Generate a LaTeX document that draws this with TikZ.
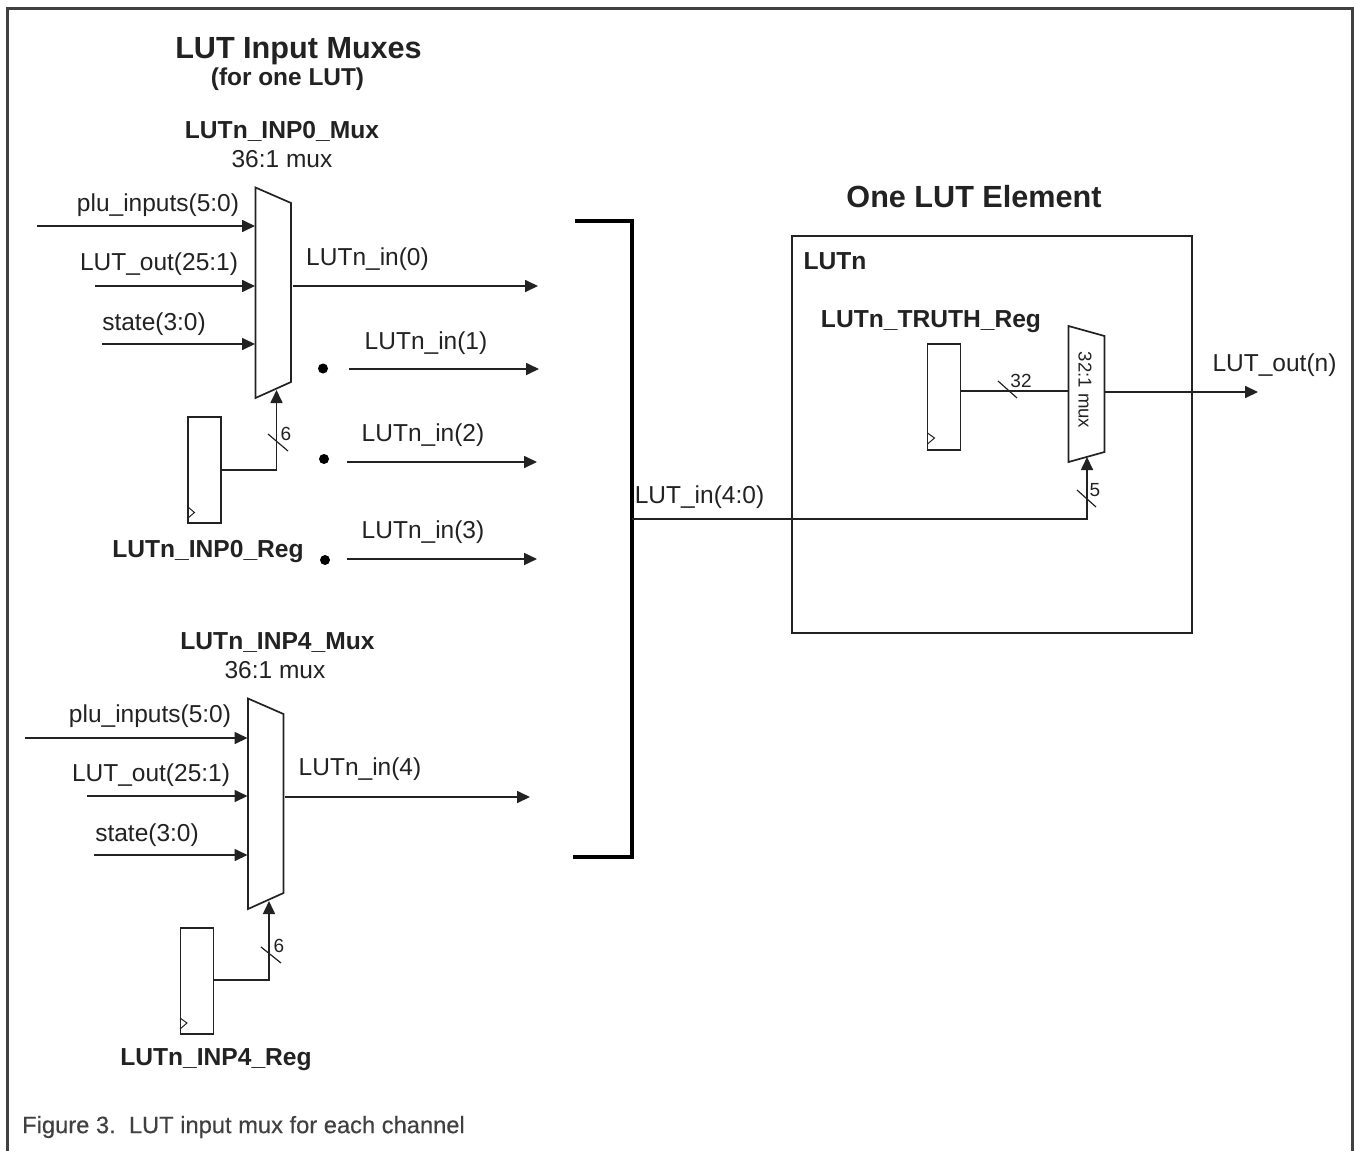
\documentclass[tikz,border=0pt]{standalone}
\usepackage{fontspec}
\setmainfont{Liberation Sans}
\newfontface\capfont[FakeBold=0.35]{Liberation Sans}
\usetikzlibrary{arrows.meta}
\definecolor{ink}{HTML}{222222}
\definecolor{framec}{HTML}{404040}
\tikzset{
  wire/.style={draw=ink,line width=1.7pt},
  sig/.style={wire,-{Triangle[length=13pt,width=12pt]}},
  thin part/.style={draw=ink,line width=1.7pt,line join=miter},
  tick/.style={draw=ink,line width=1.2pt},
  clk/.style={draw=ink,line width=1pt},
  reg/.style={draw=ink,line width=1.8pt,rectangle,inner sep=0pt,minimum width=33pt,minimum height=106pt},
  lab/.style={inner sep=0pt,text=ink,font=\fontsize{24.5}{28}\selectfont},
  blab/.style={inner sep=0pt,text=ink,font=\fontsize{24.6}{28}\selectfont\bfseries},
  hlab/.style={inner sep=0pt,text=ink,font=\fontsize{30.6}{34}\selectfont\bfseries},
  nlab/.style={inner sep=0pt,text=ink,font=\fontsize{19}{20}\selectfont},
  dotm/.style={circle,fill=black,inner sep=0pt,minimum size=10pt},
}
\begin{document}
\begin{tikzpicture}[x=1pt,y=-1pt]
\useasboundingbox (0,0) rectangle (1354,1151);
% frame
\coordinate (fbl) at (7,1151); \coordinate (ftl) at (7,8);
\coordinate (ftr) at (1352,8); \coordinate (fbr) at (1352,1151);
\draw[draw=framec,line width=3pt] (fbl) -- (ftl) -- (ftr) -- (fbr);
% headings
\node[hlab] (h1) at (298.5,51.5) {LUT Input Muxes};
\node[blab,font=\fontsize{24.4}{28}\selectfont\bfseries] (h2) at (287.5,79.5) {(for one LUT)};
\node[hlab] (h3) at (974,197) {One LUT Element};
% ---------- mux 0
\node[blab] (m0t) at (282,131) {LUTn\_INP0\_Mux};
\node[lab] (m0s) at (282,159.5) {36:1 mux};
\coordinate (a0tl) at (255.5,187.5); \coordinate (a0tr) at (291,203);
\coordinate (a0br) at (291,382); \coordinate (a0bl) at (255.5,398);
\draw[thin part] (a0tl) -- (a0tr) -- (a0br) -- (a0bl) -- cycle;
\coordinate (i0a) at (37,226); \coordinate (t0a) at (255,226);
\coordinate (i0b) at (95,286); \coordinate (t0b) at (255,286);
\coordinate (i0c) at (102,344); \coordinate (t0c) at (255,344);
\draw[sig] (i0a) -- (t0a);
\draw[sig] (i0b) -- (t0b);
\draw[sig] (i0c) -- (t0c);
\node[lab] (l0a) at (158,205) {plu\_inputs(5:0)};
\node[lab] (l0b) at (159,264.5) {LUT\_out(25:1)};
\node[lab] (l0c) at (154,324.5) {state(3:0)};
\coordinate (o0s) at (293,286); \coordinate (o0e) at (538,286);
\draw[sig] (o0s) -- (o0e);
\node[lab] (o0l) at (367.5,259.5) {LUTn\_in(0)};
\node[dotm] (d1) at (323,368.5) {};
\node[dotm] (d2) at (324,459) {};
\node[dotm] (d3) at (325,560) {};
\coordinate (o1s) at (349,369); \coordinate (o1e) at (539,369);
\coordinate (o2s) at (347,462); \coordinate (o2e) at (537,462);
\coordinate (o3s) at (347,559); \coordinate (o3e) at (537,559);
\draw[sig] (o1s) -- (o1e);
\draw[sig] (o2s) -- (o2e);
\draw[sig] (o3s) -- (o3e);
\node[lab] (o1l) at (426,343.5) {LUTn\_in(1)};
\node[lab] (o2l) at (423,435.5) {LUTn\_in(2)};
\node[lab] (o3l) at (423,532) {LUTn\_in(3)};
\node[reg] (r0) at (204.5,470) {};
\coordinate (c0a) at (188,507); \coordinate (c0b) at (194.5,512.5); \coordinate (c0c) at (188,518);
\draw[clk] (c0a) -- (c0b) -- (c0c);
\coordinate (j0) at (276.5,470); \coordinate (s0) at (276.5,390);
\draw[sig] (r0.east |- j0) -- (j0) -- (s0);
\coordinate (k0a) at (268,434); \coordinate (k0b) at (288,451);
\draw[tick] (k0a) -- (k0b);
\node[nlab] (n0) at (286,434) {6};
\node[blab] (r0l) at (208,551.5) {LUTn\_INP0\_Reg};
% ---------- mux 4
\node[blab] (m4t) at (277.5,642.5) {LUTn\_INP4\_Mux};
\node[lab] (m4s) at (275,670.5) {36:1 mux};
\coordinate (a4tl) at (248,698.5); \coordinate (a4tr) at (283.5,714);
\coordinate (a4br) at (283.5,893); \coordinate (a4bl) at (248,909);
\draw[thin part] (a4tl) -- (a4tr) -- (a4br) -- (a4bl) -- cycle;
\coordinate (i4a) at (25,738); \coordinate (t4a) at (247.5,738);
\coordinate (i4b) at (87,796); \coordinate (t4b) at (247.5,796);
\coordinate (i4c) at (94,855); \coordinate (t4c) at (247.5,855);
\draw[sig] (i4a) -- (t4a);
\draw[sig] (i4b) -- (t4b);
\draw[sig] (i4c) -- (t4c);
\node[lab] (l4a) at (150,716) {plu\_inputs(5:0)};
\node[lab] (l4b) at (151,775.5) {LUT\_out(25:1)};
\node[lab] (l4c) at (147,835) {state(3:0)};
\coordinate (o4s) at (285,797); \coordinate (o4e) at (530,797);
\draw[sig] (o4s) -- (o4e);
\node[lab] (o4l) at (360,769.5) {LUTn\_in(4)};
\node[reg] (r4) at (197,981) {};
\coordinate (c4a) at (180,1018); \coordinate (c4b) at (187,1023); \coordinate (c4c) at (180,1029);
\draw[clk] (c4a) -- (c4b) -- (c4c);
\coordinate (j4) at (269,980); \coordinate (s4) at (269,901);
\draw[sig] (r4.east |- j4) -- (j4) -- (s4);
\coordinate (k4a) at (261,947); \coordinate (k4b) at (281,963);
\draw[tick] (k4a) -- (k4b);
\node[nlab] (n4) at (279,946) {6};
\node[blab] (r4l) at (216,1060) {LUTn\_INP4\_Reg};
% ---------- bracket
\coordinate (b1) at (575,221); \coordinate (b2) at (632,221);
\coordinate (b3) at (632,857); \coordinate (b4) at (573,857);
\draw[draw=black,line width=3.6pt,line join=miter] (b1) -- (b2) -- (b3) -- (b4);
\node[lab] (bl) at (699.5,497) {LUT\_in(4:0)};
% ---------- LUT element
\coordinate (b5) at (632,519); \coordinate (b6) at (1087,519); \coordinate (b7) at (1087,457);
\draw[sig] (b5) -- (b6) -- (b7);
\node[draw=ink,line width=1.7pt,rectangle,inner sep=0pt,minimum width=400pt,minimum height=397pt] (lut) at (992,434.5) {};
\node[blab] (lutn) at (835,261) {LUTn};
\node[blab] (tr) at (931,322) {LUTn\_TRUTH\_Reg};
\node[reg] (r5) at (944,397) {};
\coordinate (c5a) at (927.5,433); \coordinate (c5b) at (934.5,438); \coordinate (c5c) at (927.5,444);
\draw[clk] (c5a) -- (c5b) -- (c5c);
\coordinate (a5tl) at (1068.5,326); \coordinate (a5tr) at (1104.5,336);
\coordinate (a5br) at (1104.5,452); \coordinate (a5bl) at (1068.5,462);
\draw[thin part] (a5tl) -- (a5tr) -- (a5br) -- (a5bl) -- cycle;
\node[inner sep=0pt,text=ink,font=\fontsize{18.6}{20}\selectfont,rotate=-90] (m5) at (1085,390) {32:1 mux};
\coordinate (w5) at (1068.5,391);
\draw[wire] (r5.east |- w5) -- (w5);
\coordinate (k5a) at (998,381); \coordinate (k5b) at (1017,398);
\draw[tick] (k5a) -- (k5b);
\node[nlab] (n5a) at (1021,381) {32};
\coordinate (k6a) at (1077,490); \coordinate (k6b) at (1096,507);
\draw[tick] (k6a) -- (k6b);
\node[nlab] (n5b) at (1095,490) {5};
\coordinate (o5s) at (1104.5,392); \coordinate (o5e) at (1258,392);
\draw[sig] (o5s) -- (o5e);
\node[lab] (o5l) at (1274.5,365) {LUT\_out(n)};
% caption
\node[inner sep=0pt,anchor=west,text=framec,font=\fontsize{23.7}{28}\capfont] (cap) at (22,1127) {Figure 3.\ \ LUT input mux for each channel};
\end{tikzpicture}
\end{document}
